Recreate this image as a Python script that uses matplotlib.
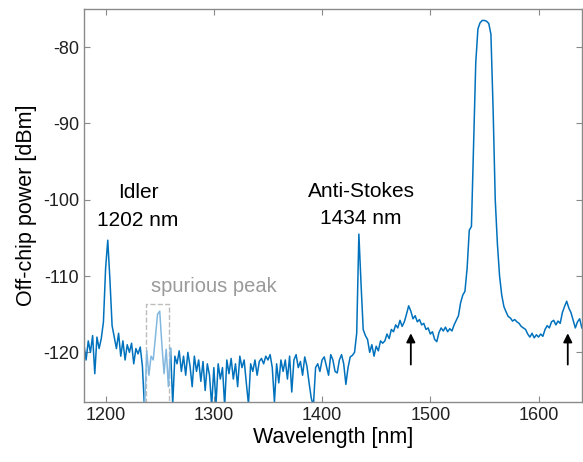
import numpy as np
import matplotlib.pyplot as plt
from matplotlib.patches import Rectangle

plt.rcParams['font.family'] = ['Liberation Sans', 'DejaVu Sans']
plt.rcParams['axes.unicode_minus'] = False

# OSA trace, 2 nm step
wavelength = np.arange(1180, 1641, 2)
power = [
    # 1180 - 1238
    -119.0, -121.0, -118.5, -120.0, -117.8, -122.8, -118.0, -119.5, -118.2, -116.0,
    -109.0, -105.3, -110.5, -116.5, -118.0, -119.5, -117.5, -120.5, -118.5, -121.0,
    -119.0, -120.0, -118.8, -121.5, -119.5, -120.2, -119.3, -121.8, -127.5, -119.8,
    # 1240 - 1298
    -123.0, -120.5, -121.0, -118.0, -115.0, -114.6, -119.0, -122.8, -119.6, -124.5,
    -119.5, -126.8, -120.5, -121.5, -119.8, -122.5, -120.5, -123.0, -120.0, -121.8,
    -124.5, -120.5, -122.5, -121.0, -123.8, -121.2, -125.0, -121.5, -123.0, -127.0,
    # 1300 - 1358
    -122.0, -126.8, -121.5, -123.5, -122.0, -127.0, -121.0, -122.8, -120.8, -123.5,
    -121.5, -124.5, -120.5, -122.0, -121.0, -124.0, -126.8, -121.5, -122.5, -121.0,
    -123.0, -121.2, -120.8, -121.5, -120.5, -121.0, -120.3, -122.0, -126.5, -121.5,
    # 1360 - 1418
    -124.0, -121.0, -122.5, -121.0, -123.5, -120.5, -125.2, -121.0, -120.3, -122.0,
    -121.2, -123.0, -120.6, -121.8, -124.0, -126.0, -127.0, -122.0, -121.5, -122.5,
    -121.0, -120.6, -121.8, -123.0, -120.3, -121.0, -122.5, -122.7, -121.0, -120.3,
    # 1420 - 1478
    -121.5, -124.2, -122.0, -120.6, -120.4, -120.0, -117.5, -104.5, -111.0, -117.0,
    -117.8, -118.3, -120.0, -119.0, -120.5, -119.2, -119.8, -118.5, -118.8, -118.5,
    -117.6, -118.2, -117.0, -117.3, -116.4, -116.8, -115.8, -116.6, -116.0, -115.0,
    # 1480 - 1538
    -113.9, -114.6, -115.6, -115.2, -116.0, -115.7, -116.4, -116.2, -117.0, -116.8,
    -117.6, -117.3, -118.3, -118.6, -117.4, -116.8, -117.2, -116.7, -117.3, -116.9,
    -117.2, -116.4, -115.8, -115.2, -113.5, -112.5, -112.0, -109.0, -104.0, -103.5,
    # 1540 - 1598
    -93.0, -82.0, -77.6, -76.8, -76.5, -76.5, -76.6, -76.9, -78.3, -88.0,
    -100.0, -105.8, -110.0, -112.5, -114.0, -114.7, -115.3, -115.5, -115.9, -115.7,
    -116.0, -116.2, -116.6, -116.8, -117.0, -117.6, -118.0, -117.5, -118.1, -117.7,
    # 1600 - 1640
    -118.0, -117.6, -117.9, -117.0, -116.5, -116.8, -116.0, -115.8, -116.4, -115.9,
    -116.2, -114.8, -114.0, -113.3, -114.2, -114.8, -115.8, -116.8, -116.0, -115.6,
    -116.8,
]
power = np.array(power)

# region of the spurious peak
spur_lo, spur_hi = 1237, 1259
spur_top = -113.6

arrow_wl = [1482, 1627]

blue = '#0072BD'
light_blue = '#82b8e0'

fig = plt.figure(figsize=(5.83, 4.62), dpi=100)
ax = fig.add_axes([0.144, 0.130, 0.854, 0.8505])

main = power.copy()
main[(wavelength > spur_lo) & (wavelength < spur_hi)] = np.nan
ax.plot(wavelength, main, color=blue, lw=1.1)
inside = (wavelength >= spur_lo - 2) & (wavelength <= spur_hi + 2)
ax.plot(wavelength[inside], power[inside], color=light_blue, lw=1.1)

ax.add_patch(Rectangle((spur_lo, -130), spur_hi - spur_lo, spur_top + 130,
                       fill=False, ls='--', ec='#bdbdbd', lw=1.0))
ax.text(1300, -111.4, 'spurious peak', color='#9a9a9a', fontsize=14.5,
        ha='center', va='center')

ax.text(1230, -99.1, 'Idler', fontsize=15, ha='center', va='center')
ax.text(1230, -102.7, '1202 nm', fontsize=15, ha='center', va='center')
ax.text(1436, -98.9, 'Anti-Stokes', fontsize=15, ha='center', va='center')
ax.text(1436, -102.4, '1434 nm', fontsize=15, ha='center', va='center')

for wl in arrow_wl:
    ax.annotate('', xy=(wl, -117.5), xytext=(wl, -121.6),
                arrowprops=dict(arrowstyle='-|>', color='black', lw=1.3,
                                mutation_scale=13, shrinkA=0, shrinkB=0))

ax.set_xlim(1180, 1640)
ax.set_ylim(-126.5, -75)
ax.set_xticks([1200, 1300, 1400, 1500, 1600])
ax.set_yticks([-120, -110, -100, -90, -80])
ax.tick_params(direction='in', top=True, right=True, length=4.5,
               color='#8a8a8a', labelsize=13, labelcolor='#202020')
for s in ax.spines.values():
    s.set_color('#8a8a8a')
    s.set_linewidth(1.0)

ax.set_xlabel('Wavelength [nm]', fontsize=15.5, labelpad=2)
ax.set_ylabel('Off-chip power [dBm]', fontsize=15.5, labelpad=4)

fig.savefig('out.png', dpi=100)
